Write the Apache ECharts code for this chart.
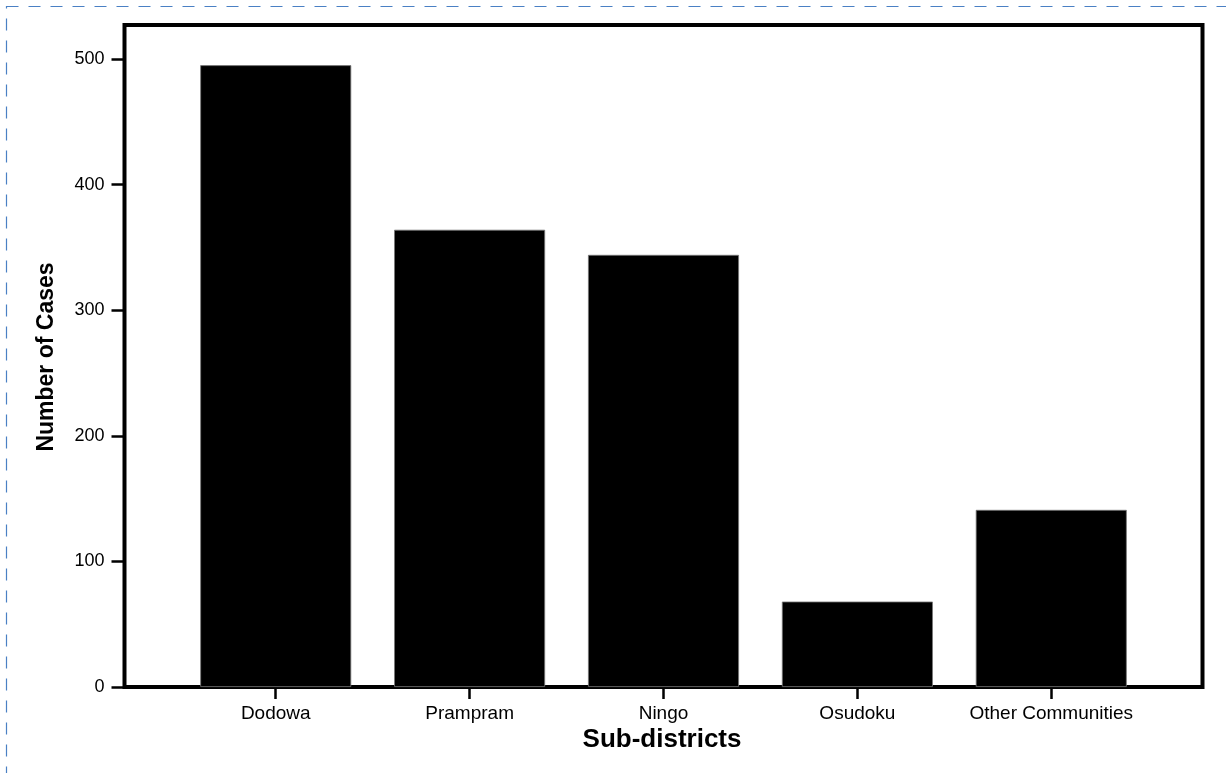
<!DOCTYPE html>
<html>
<head>
<meta charset="utf-8">
<script src="https://cdn.jsdelivr.net/npm/echarts@6/dist/echarts.min.js"></script>
<style>
  html, body { margin: 0; padding: 0; background: #fff; }
  #chart { width: 1226px; height: 773px; }
</style>
</head>
<body>
<div id="chart"></div>
<script>
const categories = ['Dodowa', 'Prampram', 'Ningo', 'Osudoku', 'Other Communities'];
const cases = [495, 364, 344, 68, 141];
const yTicks = [0, 100, 200, 300, 400, 500];
const xTitle = 'Sub-districts';
const yTitle = 'Number of Cases';

const positions = categories.map((c, i) => i + 1);
const seriesData = cases.map((v, i) => [positions[i], v]);

const chart = echarts.init(document.getElementById('chart'), null, { renderer: 'canvas' });
const font = '"Liberation Sans", Arial, Helvetica, sans-serif';

chart.setOption({
  animation: false,
  backgroundColor: '#ffffff',
  grid: {
    left: 124.5, top: 25, right: 23.5, bottom: 86,
    show: true, borderColor: '#000', borderWidth: 4, backgroundColor: 'transparent'
  },
  xAxis: {
    type: 'value',
    min: 0.22, max: 5.78,
    splitLine: { show: false },
    axisLine: { show: false },
    axisTick: { show: true, length: 12, lineStyle: { color: '#000', width: 2.5 }, customValues: positions },
    axisLabel: {
      customValues: positions,
      formatter: v => categories[Math.round(v) - 1] || '',
      color: '#000', fontFamily: font, fontSize: 19, margin: 17
    }
  },
  yAxis: {
    type: 'value',
    min: 0, max: 527,
    splitLine: { show: false },
    axisLine: { show: false },
    axisTick: { show: true, length: 13, lineStyle: { color: '#000', width: 2.5 }, customValues: yTicks },
    axisLabel: {
      customValues: yTicks,
      color: '#000', fontFamily: font, fontSize: 18, margin: 20
    }
  },
  series: [{
    type: 'bar',
    data: seriesData,
    barWidth: 151,
    itemStyle: { color: '#000', borderColor: '#777', borderWidth: 0.8 }
  }],
  graphic: [
    {
      type: 'rect', silent: true, z: 100,
      shape: { x: 6.5, y: 6.5, width: 1260, height: 820 },
      style: { fill: 'none', stroke: '#4a80c4', lineWidth: 1.2, lineDash: [12, 10] }
    },
    {
      type: 'text', x: 662, y: 740, z: 50,
      style: { text: xTitle, font: 'bold 26px ' + font, fill: '#000', align: 'center', verticalAlign: 'middle' }
    },
    {
      type: 'text', x: 47, y: 357, rotation: Math.PI / 2, z: 50,
      style: { text: yTitle, font: 'bold 23px ' + font, fill: '#000', align: 'center', verticalAlign: 'middle' }
    }
  ]
});
</script>
</body>
</html>
